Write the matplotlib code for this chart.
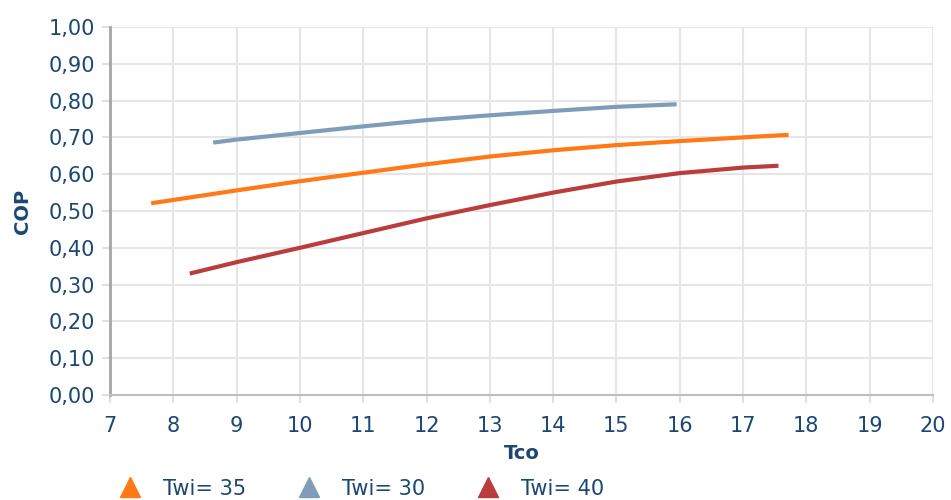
import matplotlib.pyplot as plt
from matplotlib.lines import Line2D
from matplotlib.ticker import FuncFormatter

# series
tco_30 = [8.63, 9.0, 10.0, 11.0, 12.0, 13.0, 14.0, 15.0, 15.95]
cop_30 = [0.686, 0.694, 0.712, 0.730, 0.747, 0.760, 0.772, 0.783, 0.790]

tco_35 = [7.65, 8.0, 9.0, 10.0, 11.0, 12.0, 13.0, 14.0, 15.0, 16.0, 17.0, 17.72]
cop_35 = [0.521, 0.530, 0.556, 0.581, 0.604, 0.627, 0.648, 0.665, 0.679, 0.690, 0.700, 0.707]

tco_40 = [8.26, 9.0, 10.0, 11.0, 12.0, 13.0, 14.0, 15.0, 16.0, 17.0, 17.56]
cop_40 = [0.330, 0.361, 0.400, 0.440, 0.480, 0.516, 0.550, 0.580, 0.603, 0.618, 0.623]

labels = ["Twi= 35", "Twi= 30", "Twi= 40"]
x_ticks = list(range(7, 21))
y_ticks = [i / 10 for i in range(11)]

c_orange = "#FF7A14"
c_blue = "#7F9DB9"
c_red = "#BB3C3C"
text_col = "#1B4772"

plt.rcParams['font.family'] = ['DejaVu Sans']

fig = plt.figure(figsize=(9.51, 5.0), dpi=100)
ax = fig.add_axes([0.1157, 0.21, 0.8653, 0.736])

ax.plot(tco_35, cop_35, color=c_orange, lw=3, solid_capstyle='butt', zorder=3)
ax.plot(tco_30, cop_30, color=c_blue, lw=3, solid_capstyle='butt', zorder=3)
ax.plot(tco_40, cop_40, color=c_red, lw=3, solid_capstyle='butt', zorder=3)

ax.set_xlim(7, 20)
ax.set_ylim(0, 1.0)
ax.set_xticks(x_ticks)
ax.set_yticks(y_ticks)
ax.yaxis.set_major_formatter(FuncFormatter(lambda v, p: f"{v:.2f}".replace(".", ",")))

ax.grid(True, color="#E6E6E6", lw=1.5, zorder=0)
ax.set_axisbelow(True)
for s in ["top", "right"]:
    ax.spines[s].set_visible(False)
ax.spines["left"].set_color("#A6A6A6")
ax.spines["left"].set_linewidth(2)
ax.spines["bottom"].set_color("#BFBFBF")
ax.spines["bottom"].set_linewidth(1.5)
ax.tick_params(axis="both", colors="#E0E0E0", length=6, width=1.5, labelsize=15,
               labelcolor=text_col)
ax.tick_params(axis="x", pad=9)
ax.tick_params(axis="y", pad=5)

ax.set_xlabel("Tco", fontsize=14, fontweight="bold", color=text_col, labelpad=6)
ax.set_ylabel("COP", fontsize=14, fontweight="bold", color=text_col, labelpad=12)

handles = [Line2D([], [], color=c, marker="^", ls="none", markersize=15)
           for c in (c_orange, c_blue, c_red)]
leg = fig.legend(handles, labels, loc="lower left", bbox_to_anchor=(0.095, -0.035),
                 ncol=3, frameon=False, fontsize=15, handletextpad=0.6,
                 columnspacing=2.0, labelcolor=text_col)

fig.savefig("out.png", dpi=100)
